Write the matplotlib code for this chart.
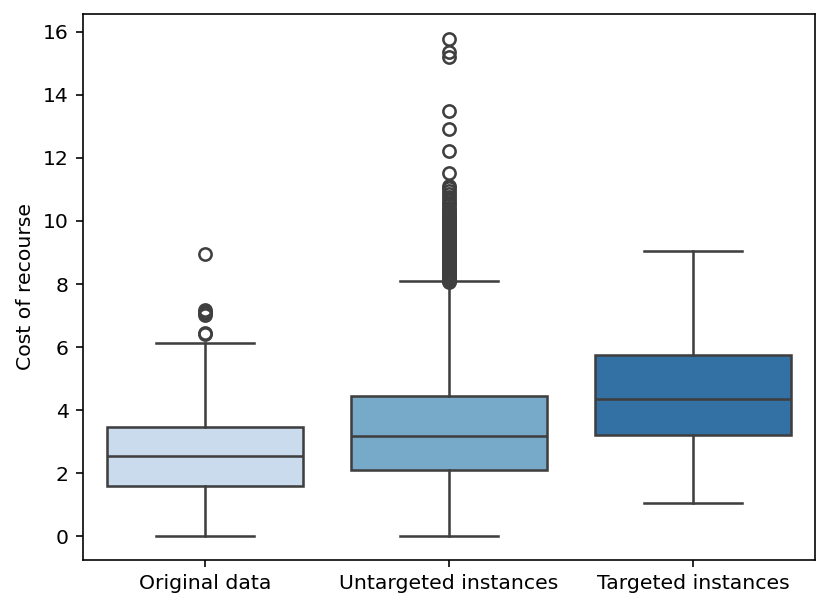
import matplotlib
matplotlib.use("Agg")
import matplotlib.pyplot as plt

# Box statistics
groups = ["Original data", "Untargeted instances", "Targeted instances"]
whislo = [0.0, 0.0, 1.05]
q1 = [1.59, 2.10, 3.21]
med = [2.54, 3.18, 4.36]
q3 = [3.47, 4.45, 5.76]
whishi = [6.14, 8.08, 9.06]

# outliers per group
fliers_original = [6.40, 6.46, 7.02, 7.08, 7.12, 7.16, 8.94]
fliers_untargeted = [
    8.05, 8.09, 8.13, 8.17, 8.22, 8.26, 8.31, 8.35, 8.40, 8.44,
    8.49, 8.53, 8.58, 8.62, 8.67, 8.71, 8.76, 8.80, 8.85, 8.89,
    8.94, 8.98, 9.03, 9.07, 9.12, 9.16, 9.21, 9.25, 9.30, 9.34,
    9.39, 9.43, 9.48, 9.52, 9.57, 9.61, 9.66, 9.70, 9.75, 9.79,
    9.84, 9.88, 9.93, 9.97, 10.02, 10.06, 10.11, 10.15, 10.20, 10.25,
    10.30, 10.36, 10.42, 10.50, 10.58, 10.66, 10.75, 10.85, 10.95, 11.05,
    11.12, 11.52, 12.22, 12.93, 13.50, 15.20, 15.36, 15.78,
]
fliers_targeted = []

box_colors = ["#c9dbec", "#77a9c9", "#3370a4"]
line_color = "#3f3f3f"

fig = plt.figure(figsize=(830 / 147, 609 / 147), dpi=147)
ax = fig.add_axes([83 / 830, 49 / 609, 732 / 830, 546 / 609])

all_fliers = [fliers_original, fliers_untargeted, fliers_targeted]
stats = []
for i, name in enumerate(groups):
    stats.append({
        "label": name,
        "whislo": whislo[i], "q1": q1[i], "med": med[i],
        "q3": q3[i], "whishi": whishi[i], "fliers": all_fliers[i],
    })

bp = ax.bxp(
    stats, positions=[0, 1, 2], widths=0.8, patch_artist=True,
    boxprops=dict(edgecolor=line_color, linewidth=1.25),
    whiskerprops=dict(color=line_color, linewidth=1.25),
    capprops=dict(color=line_color, linewidth=1.25),
    medianprops=dict(color=line_color, linewidth=1.25),
    flierprops=dict(marker="o", markerfacecolor="none", markeredgecolor=line_color,
                    markersize=6, markeredgewidth=1.25),
)
for patch, c in zip(bp["boxes"], box_colors):
    patch.set_facecolor(c)

ax.set_xlim(-0.5, 2.5)
ax.set_ylim(-0.76, 16.57)
ax.set_yticks(range(0, 17, 2))
ax.set_ylabel("Cost of recourse", fontsize=10)
ax.tick_params(labelsize=10)

fig.savefig("out.png", dpi=147)
